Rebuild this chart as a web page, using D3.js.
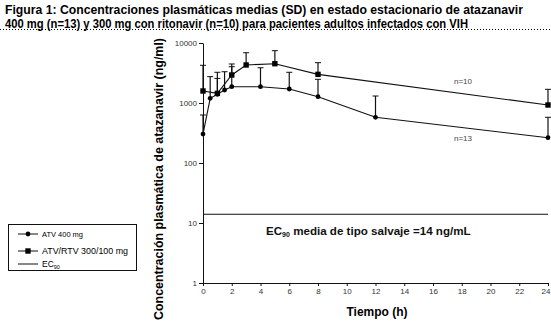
<!DOCTYPE html>
<html><head><meta charset="utf-8">
<script src="https://cdn.jsdelivr.net/npm/d3@7/dist/d3.min.js"></script>
<style>body{margin:0;background:#fff;}svg{display:block;font-family:"Liberation Sans",Arial,sans-serif;}</style>
</head><body>
<svg id="c" width="551" height="328"></svg>
<script>
const titleLines = ["Figura 1: Concentraciones plasmáticas medias (SD) en estado estacionario de atazanavir",
                    "400 mg (n=13) y 300 mg con ritonavir (n=10) para pacientes adultos infectados con VIH"];
const xTicks = [0,2,4,6,8,10,12,14,16,18,20,22,24];
const yTicks = [1,10,100,1000,10000];
const yTickLabels = ["1","10","100","1000","10000"];
const timesATV = [0,0.5,1,1.5,2,4,6,8,12,24];
const meanATV  = [304,1197,1396,1647,1870,1870,1711,1274,577,264];
const upperATV = [631,2750,2570,3320,4030,3870,3250,2480,1308,578];
const timesRTV = [0,1,2,3,5,8,24];
const meanRTV  = [1585,1445,2930,4300,4520,3000,926];
const upperRTV = [4250,3250,4470,6890,7450,4700,1690];
const ec90 = 14;
const legendLabels = ["ATV 400 mg","ATV/RTV 300/100 mg","EC"];

const svg = d3.select("#c");
const x = d3.scaleLinear().domain([0,24]).range([203,548]);
const y = d3.scaleLog().domain([1,10000]).range([283,43]);
const ink = "#111";

// title
svg.append("text").attr("x",5).attr("y",14).attr("font-size",12).attr("font-weight","bold")
  .attr("textLength",518).attr("lengthAdjust","spacingAndGlyphs").attr("fill","#000").text(titleLines[0]);
svg.append("text").attr("x",5).attr("y",27.5).attr("font-size",12).attr("font-weight","bold")
  .attr("textLength",463).attr("lengthAdjust","spacingAndGlyphs").attr("fill","#000").text(titleLines[1]);
svg.append("line").attr("x1",0).attr("x2",551).attr("y1",29.5).attr("y2",29.5)
  .attr("stroke","#000").attr("stroke-dasharray","1,2");

// axes
const yAxis = d3.axisLeft(y).tickValues(yTicks).tickFormat((d,i)=>yTickLabels[i]).tickSize(4).tickSizeOuter(0);
const xAxis = d3.axisBottom(x).tickValues(xTicks).tickSize(3).tickSizeOuter(0);
const gy = svg.append("g").attr("transform","translate(203,0)").call(yAxis);
const gx = svg.append("g").attr("transform","translate(0,283)").call(xAxis);
[gy,gx].forEach(g=>{
  g.select(".domain").attr("stroke",ink);
  g.selectAll(".tick line").attr("stroke",ink);
  g.selectAll(".tick text").attr("font-size",8).attr("fill","#333").attr("font-family","Liberation Sans, Arial, sans-serif");
});
gy.selectAll(".tick text").attr("x",-6);
gx.selectAll(".tick text").attr("y",5).attr("dx",d=>d===24?-2.5:0);

// axis titles
svg.append("text").attr("transform","translate(163,179) rotate(-90)").attr("text-anchor","middle")
  .attr("font-size",12).attr("font-weight","bold").attr("textLength",282).attr("lengthAdjust","spacingAndGlyphs")
  .text("Concentración plasmática de atazanavir (ng/ml)");
svg.append("text").attr("x",377).attr("y",316).attr("text-anchor","middle")
  .attr("font-size",12).attr("font-weight","bold").text("Tiempo (h)");

// EC90 line
svg.append("line").attr("x1",x(0)).attr("x2",x(24)).attr("y1",y(ec90)).attr("y2",y(ec90))
  .attr("stroke",ink).attr("stroke-width",1.2);
const ect = svg.append("text").attr("x",266).attr("y",235).attr("font-size",11.6).attr("font-weight","bold").attr("fill","#111");
ect.append("tspan").text("EC");
ect.append("tspan").attr("font-size",7).attr("dy",2).text("90");
ect.append("tspan").attr("dy",-2).text(" media de tipo salvaje =14 ng/mL");

// series
const line = d3.line().x(d=>x(d[0])).y(d=>y(d[1]));
function drawSeries(times, means, uppers, shape){
  const pts = times.map((t,i)=>[t,means[i],uppers[i]]);
  const g = svg.append("g");
  g.selectAll("line.eb").data(pts).join("line").attr("class","eb")
    .attr("x1",d=>x(d[0])).attr("x2",d=>x(d[0])).attr("y1",d=>y(d[1])).attr("y2",d=>y(d[2]))
    .attr("stroke",ink).attr("stroke-width",1.2);
  g.selectAll("line.cap").data(pts).join("line").attr("class","cap")
    .attr("x1",d=>x(d[0])-3).attr("x2",d=>x(d[0])+3).attr("y1",d=>y(d[2])).attr("y2",d=>y(d[2]))
    .attr("stroke",ink).attr("stroke-width",1);
  g.append("path").datum(pts).attr("d",line).attr("fill","none").attr("stroke",ink).attr("stroke-width",1.1);
  if(shape==="circle"){
    g.selectAll("circle").data(pts).join("circle").attr("cx",d=>x(d[0])).attr("cy",d=>y(d[1])).attr("r",2.4).attr("fill","#000");
  } else {
    g.selectAll("rect").data(pts).join("rect").attr("x",d=>x(d[0])-2.7).attr("y",d=>y(d[1])-2.7)
      .attr("width",5.4).attr("height",5.4).attr("fill","#000");
  }
}
drawSeries(timesRTV, meanRTV, upperRTV, "square");
drawSeries(timesATV, meanATV, upperATV, "circle");

// n labels
svg.append("text").attr("x",463).attr("y",84).attr("text-anchor","middle").attr("font-size",8).attr("fill","#444").text("n=10");
svg.append("text").attr("x",463).attr("y",141).attr("text-anchor","middle").attr("font-size",8).attr("fill","#444").text("n=13");

// legend
const lg = svg.append("g");
lg.append("rect").attr("x",8.5).attr("y",224.5).attr("width",128).attr("height",46).attr("fill","#fff").attr("stroke",ink);
const ly = [234,251,264];
ly.forEach((yy,i)=>{
  lg.append("line").attr("x1",18).attr("x2",38).attr("y1",yy).attr("y2",yy).attr("stroke",ink);
});
lg.append("circle").attr("cx",28).attr("cy",ly[0]).attr("r",2.4).attr("fill","#000");
lg.append("rect").attr("x",25.3).attr("y",ly[1]-2.7).attr("width",5.4).attr("height",5.4).attr("fill","#000");
lg.append("text").attr("x",42).attr("y",ly[0]+3).attr("font-size",8).attr("textLength",41).attr("lengthAdjust","spacingAndGlyphs").text(legendLabels[0]);
lg.append("text").attr("x",42).attr("y",ly[1]+3).attr("font-size",8.5).attr("textLength",86).attr("lengthAdjust","spacingAndGlyphs").text(legendLabels[1]);
const le = lg.append("text").attr("x",42).attr("y",ly[2]+3).attr("font-size",8.5);
le.append("tspan").text(legendLabels[2]);
le.append("tspan").attr("font-size",5.5).attr("dy",2).text("90");
</script>
</body></html>
